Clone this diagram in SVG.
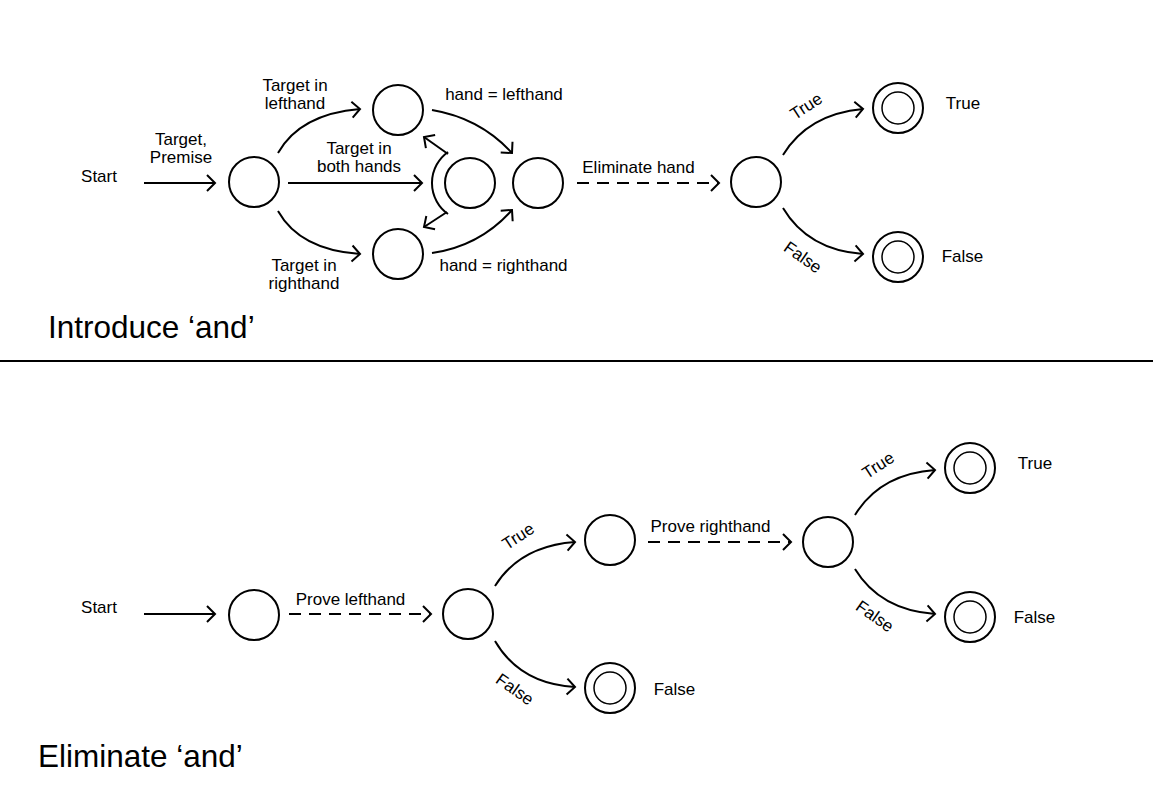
<svg xmlns="http://www.w3.org/2000/svg" width="1153" height="795" viewBox="0 0 1153 795">
  <style>
    .lbl { font-family: "Liberation Sans", Arial, sans-serif; font-size: 17px; fill: #000; }
    .mid { text-anchor: middle; }
    .title { font-family: "Liberation Sans", Arial, sans-serif; font-size: 31.5px; fill: #000; }
    .state { fill: #fff; stroke: #000; stroke-width: 2; }
    .inner { fill: none; stroke: #000; stroke-width: 1.5; }
    .edge { fill: none; stroke: #000; stroke-width: 2; marker-end: url(#chev); }
    .dash { stroke-dasharray: 12 8; }
    .plain { fill: none; stroke: #000; stroke-width: 2; }
  </style>
  <defs>
    <marker id="chev" markerUnits="userSpaceOnUse" viewBox="-10 -10 12 20" refX="0" refY="0" markerWidth="12" markerHeight="20" orient="auto">
      <path d="M-8,-8 L0,0 L-8,8" fill="none" stroke="#000" stroke-width="2" stroke-linejoin="miter"/>
    </marker>
  </defs>
  <rect width="1153" height="795" fill="#fff"/>

  <!-- connectors -->
  <g id="connectors">
    <!-- upper machine -->
    <line class="edge" x1="144" y1="183" x2="215" y2="183"/>
    <path class="edge" d="M278,153 Q300,114 360,109"/>
    <line class="edge" x1="288" y1="183" x2="422" y2="183"/>
    <path class="edge" d="M278,211 Q300,250 360,254"/>
    <path class="edge" d="M432,110 Q480,118 512,153"/>
    <path class="edge" d="M432,253 Q480,246 512,210"/>
    <path class="plain" d="M448,152 A38,38 0 0,0 448,214"/>
    <line class="edge" x1="448" y1="154" x2="424" y2="137"/>
    <line class="edge" x1="447" y1="212" x2="424" y2="227"/>
    <line class="edge dash" x1="577" y1="183" x2="719" y2="183"/>
    <path class="edge" d="M783,155 Q808,114 863,109"/>
    <path class="edge" d="M783,208 Q808,250 863,254"/>
    <!-- lower machine -->
    <line class="edge" x1="144" y1="614" x2="215" y2="614"/>
    <line class="edge dash" x1="289" y1="614" x2="431" y2="614"/>
    <path class="edge" d="M495,586 Q520,546 575,542"/>
    <path class="edge" d="M495,641 Q520,684 575,687"/>
    <line class="edge dash" x1="648" y1="542" x2="791" y2="542"/>
    <path class="edge" d="M855,515 Q880,474 935,470"/>
    <path class="edge" d="M855,569 Q880,610 935,614"/>
  </g>

  <!-- upper machine: introduce 'and' -->
  <g id="intro-start">
    <text class="lbl mid" x="99" y="182">Start</text>
  </g>
  <g id="intro-s0"><circle class="state" cx="254" cy="182" r="25"/></g>
  <g id="intro-left"><circle class="state" cx="398" cy="110" r="25"/></g>
  <g id="intro-right"><circle class="state" cx="398" cy="254" r="25"/></g>
  <g id="intro-both"><circle class="state" cx="470" cy="183" r="25"/></g>
  <g id="intro-join"><circle class="state" cx="538" cy="183" r="25"/></g>
  <g id="intro-check"><circle class="state" cx="756" cy="182" r="25"/></g>
  <g id="intro-true">
    <circle class="state" cx="898" cy="108" r="25"/>
    <circle class="inner" cx="898" cy="108" r="16"/>
    <text class="lbl mid" x="963" y="109">True</text>
  </g>
  <g id="intro-false">
    <circle class="state" cx="898" cy="257" r="25"/>
    <circle class="inner" cx="898" cy="257" r="16"/>
    <text class="lbl mid" x="962.5" y="262">False</text>
  </g>

  <g id="intro-labels">
    <text class="lbl mid" x="181" y="145">Target,</text>
    <text class="lbl mid" x="181" y="163">Premise</text>
    <text class="lbl mid" x="295" y="91">Target in</text>
    <text class="lbl mid" x="295" y="109">lefthand</text>
    <text class="lbl mid" x="359" y="154">Target in</text>
    <text class="lbl mid" x="359" y="172">both hands</text>
    <text class="lbl mid" x="304" y="271">Target in</text>
    <text class="lbl mid" x="304" y="289">righthand</text>
    <text class="lbl mid" x="504" y="100">hand = lefthand</text>
    <text class="lbl mid" x="503.5" y="271">hand = righthand</text>
    <text class="lbl mid" x="638.5" y="173">Eliminate hand</text>
    <text class="lbl mid" transform="translate(806,106) rotate(-33)" x="0" y="6">True</text>
    <text class="lbl mid" transform="translate(803,257) rotate(35)" x="0" y="6">False</text>
  </g>
  <text class="title" x="48" y="338">Introduce ‘and’</text>

  <line x1="0" y1="361" x2="1153" y2="361" stroke="#000" stroke-width="2"/>

  <!-- lower machine: eliminate 'and' -->
  <g id="elim-start">
    <text class="lbl mid" x="99" y="613">Start</text>
  </g>
  <g id="elim-s0"><circle class="state" cx="254" cy="615" r="25"/></g>
  <g id="elim-left"><circle class="state" cx="468" cy="614" r="25"/></g>
  <g id="elim-mid"><circle class="state" cx="610" cy="540" r="25"/></g>
  <g id="elim-right"><circle class="state" cx="828" cy="542" r="25"/></g>
  <g id="elim-false1">
    <circle class="state" cx="610" cy="688" r="25"/>
    <circle class="inner" cx="610" cy="688" r="16"/>
    <text class="lbl mid" x="674.5" y="695">False</text>
  </g>
  <g id="elim-true">
    <circle class="state" cx="970" cy="468" r="25"/>
    <circle class="inner" cx="970" cy="468" r="16"/>
    <text class="lbl mid" x="1035" y="469">True</text>
  </g>
  <g id="elim-false2">
    <circle class="state" cx="970" cy="617" r="25"/>
    <circle class="inner" cx="970" cy="617" r="16"/>
    <text class="lbl mid" x="1034.5" y="623">False</text>
  </g>

  <g id="elim-labels">
    <text class="lbl mid" x="350.5" y="605">Prove lefthand</text>
    <text class="lbl mid" x="710.5" y="532">Prove righthand</text>
    <text class="lbl mid" transform="translate(518,536) rotate(-33)" x="0" y="6">True</text>
    <text class="lbl mid" transform="translate(515,689) rotate(35)" x="0" y="6">False</text>
    <text class="lbl mid" transform="translate(878,465) rotate(-33)" x="0" y="6">True</text>
    <text class="lbl mid" transform="translate(875,616) rotate(35)" x="0" y="6">False</text>
  </g>
  <text class="title" x="38" y="767">Eliminate ‘and’</text>
</svg>
